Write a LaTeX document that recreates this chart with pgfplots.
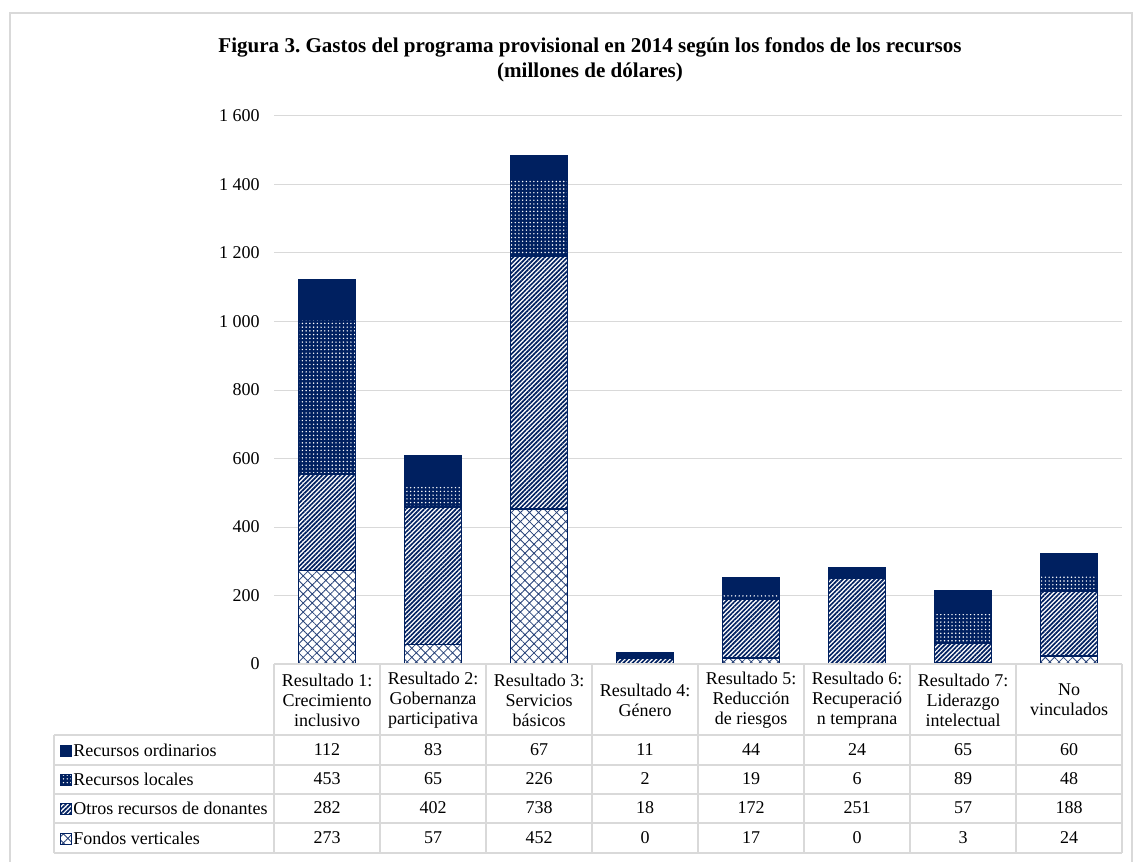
\documentclass[border=0pt]{standalone}
\usepackage{pgfplots}
\pgfplotsset{compat=1.18}
\usetikzlibrary{patterns.meta}
\usepackage{fontspec}
\setmainfont{Liberation Serif}
\definecolor{navy}{RGB}{0,32,96}
\definecolor{gridc}{RGB}{217,217,217}
\tikzset{
  sOrd/.style={fill=navy, draw=navy, line width=1.4pt},
  sLoc/.style={preaction={fill=navy}, pattern={Dots[distance=2.8pt,radius=0.6pt]}, pattern color=white, draw=navy, line width=1.4pt},
  sOtr/.style={preaction={fill=white}, pattern={Lines[angle=45,distance=2.4pt,line width=1.25pt]}, pattern color=navy, draw=navy, line width=1.4pt},
  sVer/.style={preaction={fill=white}, pattern={Hatch[angle=45,distance=4.8pt,line width=0.6pt]}, pattern color=navy!85, draw=navy, line width=1.4pt},
}
\begin{document}
\begin{tikzpicture}[x=0.75pt,y=0.75pt,font=\fontsize{13.5}{15}\selectfont]
\useasboundingbox (0,0) rectangle (1137,861);
\draw[gridc, line width=1.5pt] (10,-5) -- (10,848) -- (1132,848) -- (1132,-5);
\coordinate (O) at (274,197);
% title
\node[font=\bfseries\fontsize{15.8}{18}\selectfont] at (590,814) {Figura 3.\ Gastos del programa provisional en 2014 según los fondos de los recursos};
\node[font=\bfseries\fontsize{15.8}{18}\selectfont] at (590,789) {(millones de dólares)};
\begin{axis}[
  at={(O)}, anchor=south west,
  scale only axis, width=636pt, height=411pt,
  xmin=-0.5, xmax=7.5, ymin=0, ymax=1600,
  ybar stacked, bar width=42.75pt,
  axis line style={draw=none},
  major tick length=0pt,
  xtick=\empty,
  ytick={0,200,400,600,800,1000,1200,1400,1600},
  yticklabels={0,200,400,600,800,1 000,1 200,1 400,1 600},
  yticklabel style={font=\fontsize{13.5}{15}\selectfont, inner sep=0pt, xshift=-10.5pt},
  ymajorgrids, grid style={gridc, line width=0.75pt},
]
\addplot[sVer] coordinates {(0,273) (1,57) (2,452) (3,0) (4,17) (5,0) (6,3) (7,24)};
\addplot[sOtr] coordinates {(0,282) (1,402) (2,738) (3,18) (4,172) (5,251) (6,57) (7,188)};
\addplot[sLoc] coordinates {(0,453) (1,65) (2,226) (3,2) (4,19) (5,6) (6,89) (7,48)};
\addplot[sOrd] coordinates {(0,112) (1,83) (2,67) (3,11) (4,44) (5,24) (6,65) (7,60)};
\end{axis}
% data table
\draw[gridc, line width=0.9pt] (274,197) -- (1122,197);
\foreach \yy in {126,96,67,38,8} \draw[gridc, line width=0.9pt] (54,\yy) -- (1122,\yy);
\draw[gridc, line width=0.9pt] (54,8) -- (54,126);
\foreach \k in {0,...,8} \draw[gridc, line width=0.9pt] (274+106*\k,8) -- (274+106*\k,197);
\foreach \lab [count=\i from 0] in {{Resultado 1:\\Crecimiento\\inclusivo},{Resultado 2:\\Gobernanza\\participativa},{Resultado 3:\\Servicios\\básicos},{Resultado 4:\\Género},{Resultado 5:\\Reducción\\de riesgos},{Resultado 6:\\Recuperació\\n temprana},{Resultado 7:\\Liderazgo\\intelectual},{No\\vinculados}}
  \node[align=center, font=\fontsize{13.5}{15}\selectfont] at (327+106*\i,161) {\lab};
\foreach \a/\b/\c/\d [count=\i from 0] in {112/453/282/273,83/65/402/57,67/226/738/452,11/2/18/0,44/19/172/17,24/6/251/0,65/89/57/3,60/48/188/24}{
  \node at (327+106*\i,111) {\a};
  \node at (327+106*\i,82) {\b};
  \node at (327+106*\i,53) {\c};
  \node at (327+106*\i,23) {\d};
}
\node[anchor=west, inner sep=0pt] at (73,111) {Recursos ordinarios};
\node[anchor=west, inner sep=0pt] at (73,82) {Recursos locales};
\node[anchor=west, inner sep=0pt] at (73,53) {Otros recursos de donantes};
\node[anchor=west, inner sep=0pt] at (73,23) {Fondos verticales};
\path[sOrd, line width=0.6pt] (60,105) rectangle (71,116);
\path[sLoc, line width=0.6pt] (60,76) rectangle (71,87);
\path[sOtr, line width=0.6pt] (60,47) rectangle (71,58);
\path[sVer, line width=0.6pt] (60,17) rectangle (71,28);
\end{tikzpicture}
\end{document}
